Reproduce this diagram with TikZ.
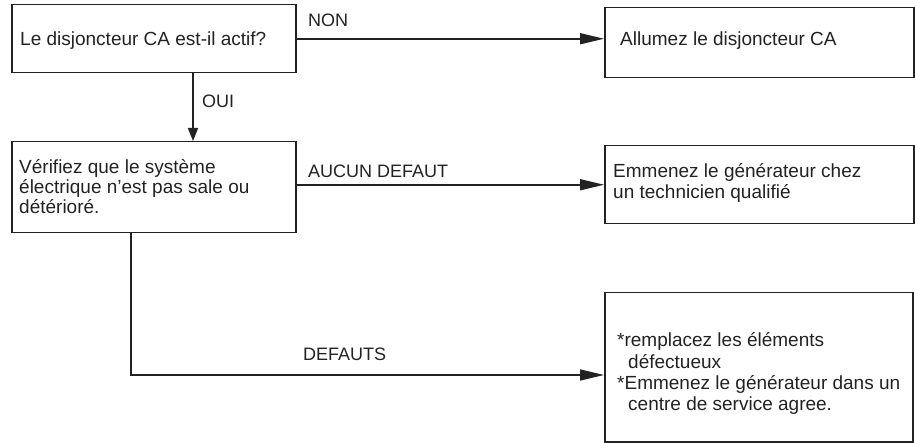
\documentclass[tikz,border=0pt]{standalone}
\usepackage{fontspec}
\setmainfont{Liberation Sans}
\usetikzlibrary{arrows.meta}
\definecolor{ink}{HTML}{222222}
\begin{document}
\begin{tikzpicture}[x=1bp,y=-1bp,
  box/.style={draw=ink, line width=1.5bp, rectangle, inner sep=0pt, anchor=north west},
  txt/.style={inner sep=0pt, anchor=base west, font=\fontsize{19bp}{21bp}\selectfont, text=ink},
  lbl/.style={inner sep=0pt, anchor=base west, font=\fontsize{18bp}{20bp}\selectfont, text=ink},
  conn/.style={draw=ink, line width=1.6bp},
  harr/.style={conn, -{Triangle[length=24bp,width=11bp]}},
  varr/.style={conn, -{Triangle[length=13bp,width=10bp]}}]
\useasboundingbox (0,0) rectangle (915,443);

% boxes
\node[box, minimum width=284bp, minimum height=68bp] (b1) at (11,4) {};
\node[box, minimum width=284bp, minimum height=91bp] (b2) at (11,141) {};
\node[box, minimum width=309bp, minimum height=70bp] (b3) at (604,7) {};
\node[box, minimum width=309bp, minimum height=78bp] (b4) at (604,145) {};
\node[box, minimum width=308bp, minimum height=149bp] (b5) at (604,292) {};

% box texts
\node[txt] (t1) at (20,46) {Le disjoncteur CA est-il actif?};
\node[txt] (t2) at (19,174) {\vtop{\baselineskip=20bp\hbox{Vérifiez que le système}\hbox{électrique n’est pas sale ou}\hbox{détérioré.}}};
\node[txt] (t3) at (620,46) {Allumez le disjoncteur CA};
\node[txt] (t4) at (613,178) {\vtop{\baselineskip=21bp\hbox{Emmenez le générateur chez}\hbox{un technicien qualifié}}};
\node[txt] (t5) at (617,347) {\vtop{\baselineskip=21.3bp\hbox{*remplacez les éléments}\hbox{\hspace{11bp}défectueux}\hbox{*Emmenez le générateur dans un}\hbox{\hspace{11bp}centre de service agree.}}};

% helper coordinates
\coordinate (ouix) at (193,0);
\coordinate (dj) at (131,375);

% connectors
\draw[harr] (b1.east) -- (b3.west |- b1.east);
\draw[varr] (b1.south -| ouix) -- (b2.north -| ouix);
\draw[harr] (b2.east |- b4.west) -- (b4.west);
\draw[harr] (b2.south -| dj) |- (b5.west |- dj);

% connector labels
\node[lbl] (lnon) at (308,27) {NON};
\node[lbl] (loui) at (202,108) {OUI};
\node[lbl] (laucun) at (308,178) {AUCUN DEFAUT};
\node[lbl] (ldef) at (303,361) {DEFAUTS};
\end{tikzpicture}
\end{document}
